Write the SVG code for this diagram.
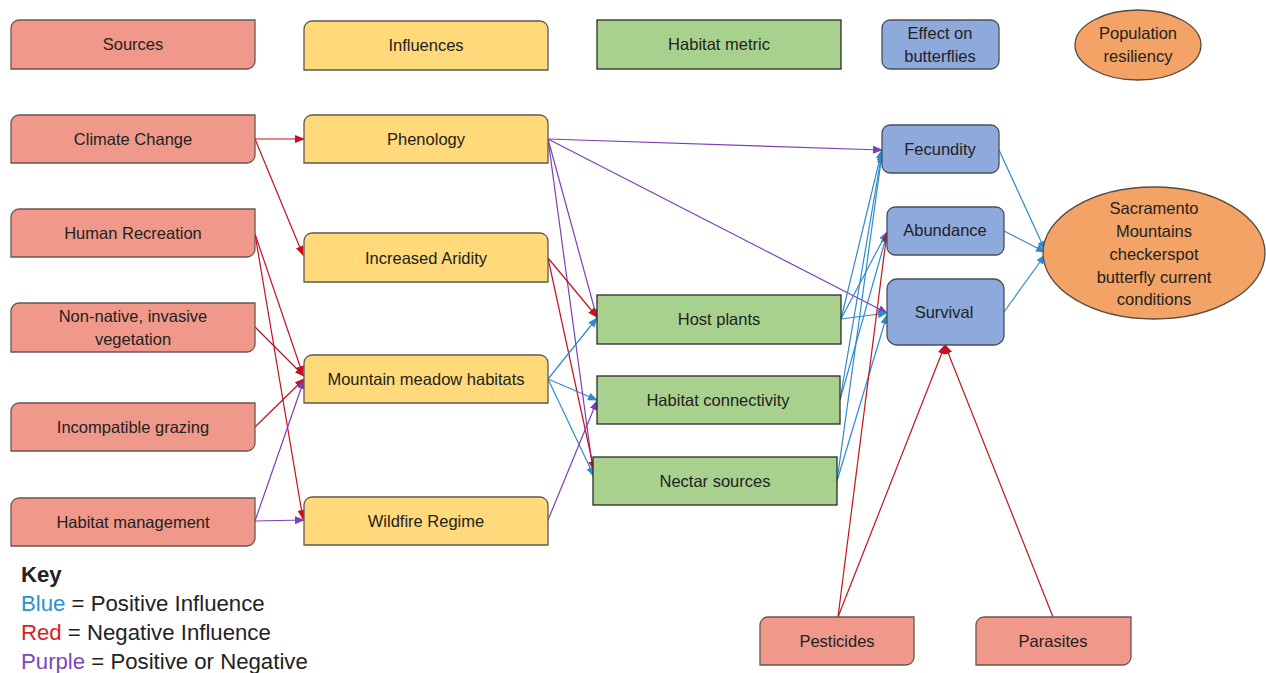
<svg xmlns="http://www.w3.org/2000/svg" width="1266" height="673" viewBox="0 0 1266 673">
<style>
.src{fill:#F0998A;stroke:#6b5552;stroke-width:1.3}
.inf{fill:#FFD97A;stroke:#5e5a50;stroke-width:1.3}
.hab{fill:#A9D18E;stroke:#2b2b2b;stroke-width:1.3}
.eff{fill:#8EA9DB;stroke:#4a4f5a;stroke-width:1.3}
.pop{fill:#F2A365;stroke:#5a4a40;stroke-width:1.3}
text{font-family:"Liberation Sans",Arial,sans-serif;font-size:16.5px;fill:#222;text-anchor:middle}
.key{text-anchor:start;font-size:22.2px}
.b{stroke:#2E8BCB;stroke-width:1.2;fill:none;marker-end:url(#ab)}
.r{stroke:#C8101E;stroke-width:1.2;fill:none;marker-end:url(#ar)}
.p{stroke:#7D3FB5;stroke-width:1.2;fill:none;marker-end:url(#ap)}
</style>
<defs>
<marker id="ab" markerWidth="10" markerHeight="8" refX="9" refY="4" orient="auto" markerUnits="userSpaceOnUse"><path d="M0,0 L10,4 L0,8 Z" fill="#2E8BCB"/></marker>
<marker id="ar" markerWidth="10" markerHeight="8" refX="9" refY="4" orient="auto" markerUnits="userSpaceOnUse"><path d="M0,0 L10,4 L0,8 Z" fill="#C8101E"/></marker>
<marker id="ap" markerWidth="10" markerHeight="8" refX="9" refY="4" orient="auto" markerUnits="userSpaceOnUse"><path d="M0,0 L10,4 L0,8 Z" fill="#7D3FB5"/></marker>
</defs>
<rect width="1266" height="673" fill="#fff"/>

<g id="connectors">
<line class="r" x1="255" y1="139" x2="304" y2="139"/>
<line class="r" x1="255" y1="139" x2="303" y2="255"/>
<line class="r" x1="255" y1="234" x2="303" y2="375"/>
<line class="r" x1="255" y1="234" x2="303" y2="519"/>
<line class="r" x1="255" y1="327" x2="304" y2="376"/>
<line class="r" x1="255" y1="427" x2="304" y2="379"/>
<line class="p" x1="255" y1="521" x2="304" y2="380"/>
<line class="p" x1="255" y1="521" x2="304" y2="520"/>
<line class="p" x1="548" y1="139" x2="882" y2="150"/>
<line class="p" x1="548" y1="139" x2="887" y2="313"/>
<line class="p" x1="548" y1="139" x2="597" y2="318"/>
<line class="p" x1="548" y1="139" x2="594" y2="478"/>
<line class="r" x1="548" y1="258" x2="597" y2="317"/>
<line class="r" x1="548" y1="258" x2="594" y2="470"/>
<line class="b" x1="548" y1="379" x2="597" y2="318"/>
<line class="b" x1="548" y1="379" x2="597" y2="400"/>
<line class="b" x1="548" y1="379" x2="594" y2="476"/>
<line class="p" x1="548" y1="520" x2="597" y2="401"/>
<line class="b" x1="841" y1="319" x2="882" y2="150"/>
<line class="b" x1="841" y1="319" x2="887" y2="232"/>
<line class="b" x1="841" y1="319" x2="887" y2="313"/>
<line class="b" x1="840" y1="400" x2="882" y2="152"/>
<line class="b" x1="840" y1="400" x2="887" y2="234"/>
<line class="b" x1="837" y1="481" x2="882" y2="154"/>
<line class="b" x1="837" y1="481" x2="887" y2="315"/>
<line class="b" x1="999" y1="150" x2="1045" y2="250"/>
<line class="b" x1="1004" y1="231" x2="1045" y2="252"/>
<line class="b" x1="1004" y1="312" x2="1045" y2="255"/>
<line class="r" x1="838" y1="617" x2="887" y2="232"/>
<line class="r" x1="838" y1="617" x2="945" y2="345"/>
<line class="r" x1="1053" y1="617" x2="945" y2="345"/>
</g>

<g id="legend-sources"><path class="src" d="M19,20 H255 V61 A8,8 0 0 1 247,69 H11 V28 A8,8 0 0 1 19,20 Z"/><text x="133" y="50">Sources</text></g>
<g id="legend-influences"><path class="inf" d="M312,21 H540 A8,8 0 0 1 548,29 V70 H304 V29 A8,8 0 0 1 312,21 Z"/><text x="426" y="51">Influences</text></g>
<g id="legend-habitat"><rect class="hab" x="597" y="20" width="244" height="49"/><text x="719" y="50">Habitat metric</text></g>
<g id="legend-effect"><rect class="eff" x="882" y="20" width="117" height="49" rx="8"/><text x="940" y="39">Effect on</text><text x="940" y="62">butterflies</text></g>
<g id="legend-population"><ellipse class="pop" cx="1138" cy="45" rx="63" ry="35"/><text x="1138" y="39">Population</text><text x="1138" y="62">resiliency</text></g>

<g id="climate-change"><path class="src" d="M19,115 H255 V155 A8,8 0 0 1 247,163 H11 V123 A8,8 0 0 1 19,115 Z"/><text x="133" y="145">Climate Change</text></g>
<g id="human-recreation"><path class="src" d="M19,209 H255 V249 A8,8 0 0 1 247,257 H11 V217 A8,8 0 0 1 19,209 Z"/><text x="133" y="239">Human Recreation</text></g>
<g id="non-native"><path class="src" d="M19,303 H255 V344 A8,8 0 0 1 247,352 H11 V311 A8,8 0 0 1 19,303 Z"/><text x="133" y="322">Non-native, invasive</text><text x="133" y="345">vegetation</text></g>
<g id="incompatible-grazing"><path class="src" d="M19,403 H255 V443 A8,8 0 0 1 247,451 H11 V411 A8,8 0 0 1 19,403 Z"/><text x="133" y="433">Incompatible grazing</text></g>
<g id="habitat-management"><path class="src" d="M19,498 H255 V538 A8,8 0 0 1 247,546 H11 V506 A8,8 0 0 1 19,498 Z"/><text x="133" y="528">Habitat management</text></g>

<g id="phenology"><path class="inf" d="M312,115 H540 A8,8 0 0 1 548,123 V163 H304 V123 A8,8 0 0 1 312,115 Z"/><text x="426" y="145">Phenology</text></g>
<g id="increased-aridity"><path class="inf" d="M312,233 H540 A8,8 0 0 1 548,241 V282 H304 V241 A8,8 0 0 1 312,233 Z"/><text x="426" y="264">Increased Aridity</text></g>
<g id="mountain-meadow"><path class="inf" d="M312,355 H540 A8,8 0 0 1 548,363 V403 H304 V363 A8,8 0 0 1 312,355 Z"/><text x="426" y="385">Mountain meadow habitats</text></g>
<g id="wildfire-regime"><path class="inf" d="M312,497 H540 A8,8 0 0 1 548,505 V545 H304 V505 A8,8 0 0 1 312,497 Z"/><text x="426" y="527">Wildfire Regime</text></g>

<g id="host-plants"><rect class="hab" x="597" y="295" width="244" height="49"/><text x="719" y="325">Host plants</text></g>
<g id="habitat-connectivity"><rect class="hab" x="597" y="376" width="243" height="48"/><text x="718" y="406">Habitat connectivity</text></g>
<g id="nectar-sources"><rect class="hab" x="593" y="457" width="244" height="48"/><text x="715" y="487">Nectar sources</text></g>

<g id="fecundity"><rect class="eff" x="882" y="125" width="117" height="48" rx="8"/><text x="940" y="155">Fecundity</text></g>
<g id="abundance"><rect class="eff" x="887" y="207" width="117" height="48" rx="8"/><text x="945" y="236">Abundance</text></g>
<g id="survival"><rect class="eff" x="887" y="279" width="117" height="66" rx="10"/><text x="944" y="318">Survival</text></g>

<g id="current-conditions"><ellipse class="pop" cx="1154" cy="253" rx="111" ry="66"/>
<text x="1154" y="214">Sacramento</text><text x="1154" y="237">Mountains</text><text x="1154" y="260">checkerspot</text><text x="1154" y="283">butterfly current</text><text x="1154" y="305">conditions</text></g>

<g id="pesticides"><path class="src" d="M768,617 H914 V657 A8,8 0 0 1 906,665 H760 V625 A8,8 0 0 1 768,617 Z"/><text x="837" y="647">Pesticides</text></g>
<g id="parasites"><path class="src" d="M984,617 H1131 V657 A8,8 0 0 1 1123,665 H976 V625 A8,8 0 0 1 984,617 Z"/><text x="1053" y="647">Parasites</text></g>

<g id="key">
<text class="key" x="21" y="582" font-weight="bold">Key</text>
<text class="key" x="21" y="611"><tspan fill="#2F8FD6">Blue</tspan> = Positive Influence</text>
<text class="key" x="21" y="640"><tspan fill="#D81E1E">Red</tspan> = Negative Influence</text>
<text class="key" x="21" y="669"><tspan fill="#7F45BF">Purple</tspan> = Positive or Negative</text>
</g>
</svg>
